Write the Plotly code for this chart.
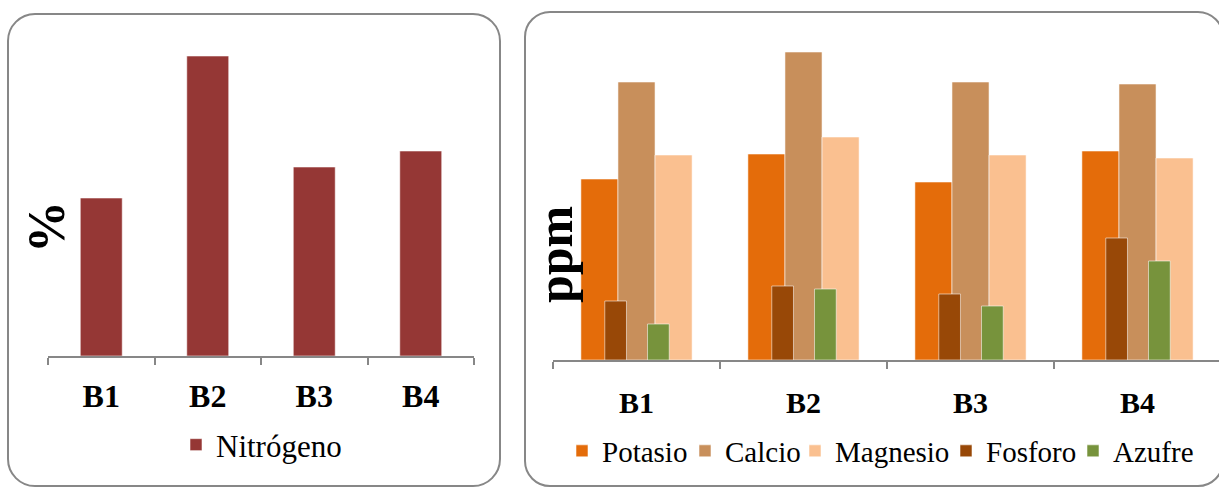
import plotly.graph_objects as go

W, H = 1219, 487

# ---- data ----
bloques = ["B1", "B2", "B3", "B4"]
nitrogeno = [0.158, 0.300, 0.189, 0.205]      # %
potasio = [181, 206, 178, 209]                # ppm
calcio = [278, 308, 278, 276]
magnesio = [205, 223, 205, 202]
fosforo = [59, 74, 66, 122]
azufre = [36, 71, 54, 99]

SERIF = "Liberation Serif"
GRIS = "#878787"
EDGE = dict(color="rgba(255,255,255,0.55)", width=1)


def px(x):
    return x / W


def py(y):
    return 1 - y / H


def rounded_rect(x0, y0, x1, y1, r):
    k = 0.5523 * r
    pts = [
        f"M{px(x0 + r)},{py(y0)}",
        f"L{px(x1 - r)},{py(y0)}",
        f"C{px(x1 - r + k)},{py(y0)} {px(x1)},{py(y0 + r - k)} {px(x1)},{py(y0 + r)}",
        f"L{px(x1)},{py(y1 - r)}",
        f"C{px(x1)},{py(y1 - r + k)} {px(x1 - r + k)},{py(y1)} {px(x1 - r)},{py(y1)}",
        f"L{px(x0 + r)},{py(y1)}",
        f"C{px(x0 + r - k)},{py(y1)} {px(x0)},{py(y1 - r + k)} {px(x0)},{py(y1 - r)}",
        f"L{px(x0)},{py(y0 + r)}",
        f"C{px(x0)},{py(y0 + r - k)} {px(x0 + r - k)},{py(y0)} {px(x0 + r)},{py(y0)}",
        "Z",
    ]
    return " ".join(pts)


fig = go.Figure()

# left panel: nitrogen (%)
fig.add_trace(go.Bar(
    x=bloques, y=nitrogeno, name="Nitrógeno",
    marker=dict(color="#953735", line=EDGE),
    width=0.394, xaxis="x", yaxis="y", legend="legend",
))

# right panel: nutrients (ppm); each series gets its own legend box
main_series = [
    ("Potasio", potasio, "#E46C0A", -0.333, "legend2"),
    ("Calcio", calcio, "#C88F5B", -0.111, "legend3"),
    ("Magnesio", magnesio, "#FAC090", 0.111, "legend4"),
]
for name, vals, col, off, leg in main_series:
    fig.add_trace(go.Bar(
        x=bloques, y=vals, name=name,
        marker=dict(color=col, line=EDGE),
        width=0.222, offset=off, xaxis="x2", yaxis="y2", legend=leg,
    ))

minor_series = [
    ("Fosforo", fosforo, "#984807", -0.19, "legend5"),
    ("Azufre", azufre, "#77933C", 0.066, "legend6"),
]
for name, vals, col, off, leg in minor_series:
    fig.add_trace(go.Bar(
        x=bloques, y=vals, name=name,
        marker=dict(color=col, line=EDGE),
        width=0.13, offset=off, xaxis="x2", yaxis="y2", legend=leg,
    ))


def x_axis(standoff, size):
    return dict(
        type="category", showline=True, linecolor=GRIS, linewidth=1.5,
        ticks="outside", tickson="boundaries", ticklen=7, tickwidth=1.5, tickcolor=GRIS,
        showgrid=False, zeroline=False,
        tickfont=dict(family=SERIF, size=size, color="black", weight=700),
        ticklabelstandoff=standoff, fixedrange=True,
    )


def legend_box(left_px, y_px, size):
    return dict(
        orientation="h", x=px(left_px), y=py(y_px), xanchor="left", yanchor="middle",
        font=dict(family=SERIF, size=size, color="black"), bgcolor="rgba(0,0,0,0)",
        borderwidth=0,
    )


fig.update_layout(
    width=W, height=H,
    margin=dict(l=0, r=0, t=0, b=0),
    font=dict(family=SERIF, color="black"),
    paper_bgcolor="white", plot_bgcolor="rgba(0,0,0,0)",
    barmode="overlay",
    xaxis=dict(domain=[px(48), px(474)], range=[-0.5, 3.5], anchor="y", **x_axis(11, 32)),
    yaxis=dict(domain=[py(356), py(36)], range=[0, 0.32], visible=False, anchor="x"),
    xaxis2=dict(domain=[px(553), 1.0], range=[-0.5, 3.488], anchor="y2", **x_axis(15, 30)),
    yaxis2=dict(domain=[py(360), py(40)], range=[0, 320], visible=False, anchor="x2"),
    legend=legend_box(176, 445, 31),
    legend2=legend_box(562, 451, 29),
    legend3=legend_box(685, 451, 29),
    legend4=legend_box(795, 451, 29),
    legend5=legend_box(946, 451, 29),
    legend6=legend_box(1073, 451, 29),
    showlegend=True,
    annotations=[
        dict(text="%", x=px(46), y=py(227), xref="paper", yref="paper",
             xanchor="center", yanchor="middle",
             showarrow=False, textangle=-90,
             font=dict(family=SERIF, size=52, color="black", weight=700)),
        dict(text="ppm", x=px(555), y=py(255), xref="paper", yref="paper",
             xanchor="center", yanchor="middle",
             showarrow=False, textangle=-90,
             font=dict(family=SERIF, size=50, color="black", weight=700)),
    ],
    shapes=[
        dict(type="path", xref="paper", yref="paper", layer="below",
             path=rounded_rect(8, 14, 500, 486, 27), line=dict(color=GRIS, width=2)),
        dict(type="path", xref="paper", yref="paper", layer="below",
             path=rounded_rect(525, 12, 1223, 486, 25), line=dict(color=GRIS, width=2)),
    ],
)

fig.write_html("out.html")
